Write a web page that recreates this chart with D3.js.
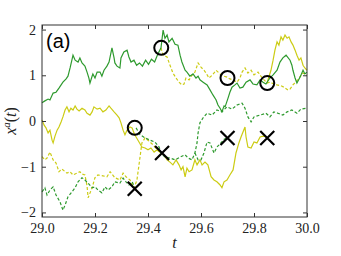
<!DOCTYPE html>
<html><head><meta charset="utf-8">
<script src="https://cdn.jsdelivr.net/npm/d3@7"></script>
<style>body{margin:0;background:#fff}svg{display:block}</style>
</head><body>
<svg id="c" width="341" height="256"></svg>
<script>
// ---- data (t, x) ----
const greenSolidT = [29.000,29.011,29.023,29.030,29.042,29.053,29.064,29.079,29.091,29.098,29.106,29.117,29.125,29.136,29.143,29.151,29.162,29.170,29.177,29.181,29.189,29.192,29.200,29.208,29.219,29.226,29.234,29.245,29.253,29.264,29.272,29.275,29.283,29.294,29.298,29.309,29.321,29.328,29.336,29.347,29.357,29.368,29.379,29.391,29.402,29.413,29.425,29.436,29.449,29.457,29.464,29.472,29.479,29.491,29.502,29.513,29.521,29.528,29.540,29.547,29.558,29.570,29.581,29.589,29.596,29.608,29.623,29.634,29.645,29.657,29.664,29.672,29.679,29.687,29.691,29.702,29.709,29.717,29.728,29.736,29.747,29.758,29.770,29.785,29.796,29.811,29.823,29.834,29.845,29.860,29.872,29.887,29.898,29.909,29.921,29.936,29.943,29.947,29.955,29.962,29.974,29.985,29.992,30.000];
const greenSolidX = [0.40,0.44,0.48,0.46,0.61,0.63,0.72,0.85,0.92,0.98,1.16,1.44,1.33,1.29,1.38,1.27,1.20,1.07,0.94,0.83,0.98,1.03,0.94,1.07,1.07,0.98,1.11,1.20,1.29,1.60,1.38,1.27,1.20,1.16,1.38,1.51,1.55,1.40,1.29,1.33,1.22,1.27,1.20,1.33,1.24,1.35,1.29,1.45,1.60,1.99,1.81,1.88,1.73,1.81,1.68,1.66,1.44,1.29,1.11,1.07,0.98,1.03,0.94,0.98,0.90,0.85,0.79,0.68,0.57,0.46,0.35,0.28,0.20,0.33,0.31,0.50,0.63,0.74,0.79,0.83,0.72,0.74,0.85,0.90,0.81,0.79,0.90,0.85,0.81,0.94,1.01,1.11,1.29,1.38,1.44,1.33,1.22,1.11,0.94,0.83,0.96,1.11,1.03,1.07];

const yellowUpDashT = [29.449,29.457,29.472,29.483,29.494,29.506,29.517,29.528,29.536,29.543,29.555,29.566,29.577,29.589,29.600,29.611,29.619,29.630,29.642,29.657,29.672,29.687,29.698,29.709,29.721,29.736,29.747,29.755,29.766,29.777,29.789,29.800,29.815,29.826,29.838,29.849,29.860,29.875,29.887,29.902,29.913,29.928,29.936,29.947,29.962,29.970,29.985,30.000];
const yellowUpDashX = [1.60,1.44,1.40,1.22,1.05,0.94,0.85,0.79,0.81,0.94,0.90,1.00,1.07,1.27,1.18,1.11,1.05,0.94,1.00,1.11,1.03,0.98,0.96,0.92,0.90,0.85,0.94,1.07,1.16,1.05,1.11,1.01,1.07,0.98,0.90,0.83,0.85,0.81,0.79,0.77,0.74,0.68,0.70,0.79,0.88,0.94,1.05,1.00];

const yellowUpSolidT = [29.849,29.857,29.864,29.872,29.879,29.887,29.894,29.902,29.909,29.917,29.925,29.932,29.940,29.947,29.955,29.962,29.970,29.977,29.985,29.992,30.000];
const yellowUpSolidX = [0.83,0.98,1.11,1.33,1.55,1.73,1.66,1.84,1.77,1.88,1.81,1.84,1.73,1.66,1.55,1.44,1.33,1.38,1.22,1.16,1.11];

const yellowMidSolidT = [29.000,29.008,29.015,29.023,29.030,29.038,29.042,29.049,29.057,29.064,29.072,29.079,29.087,29.094,29.102,29.109,29.117,29.125,29.132,29.140,29.151,29.162,29.170,29.181,29.189,29.196,29.208,29.219,29.230,29.241,29.253,29.260,29.272,29.283,29.291,29.298,29.306,29.313,29.321,29.332,29.340,29.347,29.355,29.366,29.377,29.389,29.400,29.411,29.423,29.434,29.449,29.460,29.472,29.483,29.494,29.506,29.517,29.525,29.532,29.540,29.547,29.555,29.566,29.577,29.585,29.596,29.604,29.615,29.626,29.638,29.649,29.660,29.672,29.679,29.687,29.698,29.709,29.721,29.732,29.743,29.751,29.766,29.770,29.777,29.789,29.800,29.811,29.823,29.834,29.849];
const yellowMidSolidX = [0.02,-0.09,-0.15,-0.26,-0.20,-0.42,-0.48,-0.33,-0.20,-0.13,-0.02,0.09,0.24,0.31,0.20,0.28,0.24,0.33,0.26,0.22,0.28,0.24,0.17,0.13,0.20,0.31,0.26,0.28,0.20,0.24,0.33,0.28,0.20,0.13,0.07,-0.04,-0.20,-0.30,-0.20,-0.13,-0.15,-0.26,-0.35,-0.46,-0.57,-0.59,-0.63,-0.59,-0.68,-0.63,-0.70,-0.74,-0.85,-0.90,-0.96,-0.85,-0.96,-1.07,-1.00,-1.22,-1.03,-1.11,-1.07,-0.85,-0.96,-0.85,-0.96,-0.90,-0.96,-1.22,-1.29,-1.33,-1.40,-1.46,-1.33,-1.29,-1.18,-1.07,-0.70,-0.48,-0.35,-0.13,-0.35,-0.57,-0.59,-0.46,-0.48,-0.35,-0.33,-0.35];

const yellowLowDashT = [29.000,29.011,29.019,29.030,29.042,29.053,29.064,29.075,29.094,29.106,29.117,29.132,29.143,29.151,29.162,29.170,29.174,29.189,29.200,29.211,29.230,29.245,29.257,29.275,29.294,29.306,29.317,29.332,29.347,29.358,29.366,29.377,29.389,29.400,29.419,29.434,29.449];
const yellowLowDashX = [-0.78,-0.85,-0.81,-0.68,-0.85,-0.92,-1.11,-1.05,-1.14,-1.11,-1.18,-1.14,-1.11,-1.16,-1.18,-1.42,-1.68,-1.46,-1.24,-1.18,-1.20,-1.22,-1.11,-1.24,-1.29,-1.14,-1.22,-1.29,-1.47,-1.30,-0.96,-0.48,-0.37,-0.42,-0.52,-0.63,-0.70];

const greenLowDashT = [29.000,29.011,29.019,29.030,29.042,29.053,29.068,29.079,29.087,29.098,29.113,29.125,29.136,29.151,29.162,29.174,29.189,29.200,29.211,29.226,29.238,29.249,29.264,29.275,29.294,29.306,29.317,29.328,29.340,29.351];
const greenLowDashX = [-1.55,-1.46,-1.62,-1.51,-1.44,-1.62,-1.77,-1.95,-1.84,-1.66,-1.55,-1.46,-1.33,-1.24,-1.29,-1.36,-1.46,-1.44,-1.51,-1.57,-1.44,-1.51,-1.44,-1.33,-1.36,-1.25,-1.33,-1.40,-1.33,-1.47];

const greenMidDashT = [29.355,29.370,29.389,29.408,29.426,29.442,29.449,29.464,29.483,29.502,29.521,29.540,29.551,29.566,29.577,29.585,29.589,29.596,29.608,29.623,29.642,29.660,29.679,29.698,29.717,29.736,29.755,29.766,29.777,29.789,29.800,29.823,29.845,29.860,29.875,29.890,29.909,29.925,29.943,29.962,29.977,30.000];
const greenMidDashX = [-0.15,-0.30,-0.37,-0.42,-0.46,-0.57,-0.70,-0.79,-0.81,-0.85,-0.79,-0.74,-0.81,-0.85,-0.70,-0.48,-0.26,-0.04,0.07,0.17,0.13,0.24,0.20,0.31,0.26,0.35,0.39,0.28,0.09,-0.02,0.09,0.13,0.17,0.09,0.20,0.17,0.13,0.20,0.24,0.17,0.26,0.28];

const greenBranchDashT = [29.577,29.589,29.600,29.611,29.623,29.634,29.649,29.660,29.672,29.687,29.702];
const greenBranchDashX = [-0.70,-0.85,-0.85,-0.70,-0.46,-0.48,-0.70,-0.57,-0.50,-0.40,-0.37];

const circleT = [29.35, 29.45, 29.70, 29.85];
const circleX = [-0.15, 1.60, 0.94, 0.83];
const crossT = [29.35, 29.453, 29.70, 29.85];
const crossX = [-1.48, -0.70, -0.37, -0.37];

const xTicks = [29.0, 29.2, 29.4, 29.6, 29.8, 30.0];
const yTicks = [-2, -1, 0, 1, 2];
const panelLabel = "(a)";

// ---- drawing ----
const W = 341, H = 256;
const m = {l:42, r:34, t:25, b:39};
const svg = d3.select("#c");
const x = d3.scaleLinear().domain([29, 30]).range([m.l, W - m.r]);
const y = d3.scaleLinear().domain([-2.1, 2.1]).range([H - m.b, m.t]);

const GREEN = "#2e9a2e", YELLOW = "#cccc14";
const series = [
  {t: yellowMidSolidT, v: yellowMidSolidX, c: YELLOW, d: null},
  {t: yellowLowDashT, v: yellowLowDashX, c: YELLOW, d: "3,2"},
  {t: greenLowDashT, v: greenLowDashX, c: GREEN, d: "3,2"},
  {t: greenMidDashT, v: greenMidDashX, c: GREEN, d: "3,2"},
  {t: greenBranchDashT, v: greenBranchDashX, c: GREEN, d: "3,2"},
  {t: yellowUpDashT, v: yellowUpDashX, c: YELLOW, d: "3,2"},
  {t: yellowUpSolidT, v: yellowUpSolidX, c: YELLOW, d: null},
  {t: greenSolidT, v: greenSolidX, c: GREEN, d: null},
];
const line = d3.line().x(d => x(d[0])).y(d => y(d[1]));
const g = svg.append("g");
series.forEach(s => {
  const pts = s.t.map((t, i) => [t, s.v[i]]);
  g.append("path").attr("d", line(pts)).attr("fill", "none")
    .attr("stroke", s.c).attr("stroke-width", 1.2)
    .attr("stroke-dasharray", s.d);
});

// markers
svg.append("g").selectAll("circle").data(circleT.map((t,i)=>[t,circleX[i]])).join("circle")
  .attr("cx", d => x(d[0])).attr("cy", d => y(d[1])).attr("r", 7)
  .attr("fill", "none").attr("stroke", "#000").attr("stroke-width", 2);
const cs = 7;
svg.append("g").selectAll("path").data(crossT.map((t,i)=>[t,crossX[i]])).join("path")
  .attr("d", d => { const cx = x(d[0]), cy = y(d[1]);
    return `M${cx-cs},${cy-cs}L${cx+cs},${cy+cs}M${cx-cs},${cy+cs}L${cx+cs},${cy-cs}`; })
  .attr("stroke", "#000").attr("stroke-width", 2.2).attr("fill", "none");

// axes
const fmtY = d => d < 0 ? "\u2212" + Math.abs(d) : String(d);
const axBottom = svg.append("g").attr("transform", `translate(0,${H - m.b})`)
  .call(d3.axisBottom(x).tickValues(xTicks).tickFormat(d3.format(".1f")).tickSizeInner(-4).tickSizeOuter(0).tickPadding(6));
const axLeft = svg.append("g").attr("transform", `translate(${m.l},0)`)
  .call(d3.axisLeft(y).tickValues(yTicks).tickFormat(fmtY).tickSizeInner(-4).tickSizeOuter(0).tickPadding(6));
const axTop = svg.append("g").attr("transform", `translate(0,${m.t})`)
  .call(d3.axisTop(x).tickValues(xTicks).tickFormat("").tickSizeInner(-4).tickSizeOuter(0));
const axRight = svg.append("g").attr("transform", `translate(${W - m.r},0)`)
  .call(d3.axisRight(y).tickValues(yTicks).tickFormat("").tickSizeInner(-4).tickSizeOuter(0));
[axBottom, axLeft, axTop, axRight].forEach(a => {
  a.select(".domain").remove();
  a.selectAll("line").attr("stroke", "#333");
  a.selectAll("text").attr("font-family", "'Liberation Serif', serif").attr("font-size", 14).attr("fill", "#222");
});
svg.append("rect").attr("x", m.l).attr("y", m.t).attr("width", W - m.l - m.r).attr("height", H - m.t - m.b)
  .attr("fill", "none").attr("stroke", "#333").attr("stroke-width", 1);

// labels
svg.append("text").attr("x", (m.l + W - m.r) / 2).attr("y", 248).attr("text-anchor", "middle")
  .attr("font-family", "'Liberation Serif', serif").attr("font-style", "italic").attr("font-size", 16).attr("fill", "#222").text("t");
const yl = svg.append("text").attr("transform", `translate(16,${(m.t + H - m.b)/2}) rotate(-90)`)
  .attr("text-anchor", "middle").attr("font-family", "'Liberation Serif', serif").attr("font-size", 16).attr("fill", "#222");
yl.append("tspan").attr("font-style", "italic").text("x");
yl.append("tspan").attr("font-style", "italic").attr("font-size", 11).attr("dy", -6).text("a");
yl.append("tspan").attr("dy", 6).text("(");
yl.append("tspan").attr("font-style", "italic").text("t");
yl.append("tspan").text(")");
svg.append("text").attr("x", 46).attr("y", 48).attr("font-family", "'Liberation Sans', Arial, sans-serif")
  .attr("font-size", 20).attr("fill", "#000").text(panelLabel);
</script>
</body></html>
